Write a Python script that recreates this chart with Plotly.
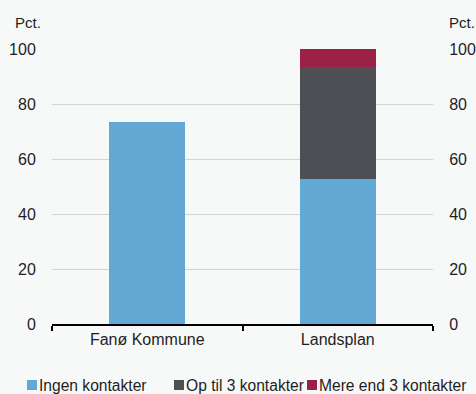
import plotly.graph_objects as go

# Data (percent)
categories = ['Fanø Kommune', 'Landsplan']
series_names = ['Ingen kontakter', 'Op til 3 kontakter', 'Mere end 3 kontakter']
ingen = [73.5, 52.8]
op_til_3 = [0, 40.7]
mere_end_3 = [0, 6.5]
series_colors = ['#63A9D5', '#4E4F55', '#9B2246']

tick_vals = [0, 20, 40, 60, 80, 100]

W, H = 476, 394
L, R, T, B = 52, 43, 49, 70
font = dict(family='Liberation Sans, Arial, sans-serif', size=16, color='#1E1E1E')
small_font = dict(font, size=15)
legend_font = dict(font, size=15.6)


def px_x(px):
    return (px - L) / (W - L - R)


def px_y(py):
    return (H - B - py) / (H - T - B)


fig = go.Figure()
for name, vals, col in zip(series_names, [ingen, op_til_3, mere_end_3], series_colors):
    fig.add_trace(go.Bar(x=categories, y=vals, name=name, marker_color=col,
                         marker_line_width=0, showlegend=False))

# invisible trace to drive the right axis
fig.add_trace(go.Scatter(x=categories, y=[0, 0], yaxis='y2', mode='markers',
                         marker_opacity=0, showlegend=False, hoverinfo='skip'))

fig.update_layout(
    width=W, height=H,
    barmode='stack', bargap=0.6,
    paper_bgcolor='#F7F9F9', plot_bgcolor='#F7F9F9',
    font=font,
    margin=dict(l=L, r=R, t=T, b=B, autoexpand=False),
    xaxis=dict(showline=True, linecolor='black', linewidth=2, automargin=False,
               ticks='outside', tickson='boundaries', ticklen=5,
               tickcolor='black', tickwidth=2, showgrid=False),
    yaxis=dict(range=[0, 100], tickvals=tick_vals, showgrid=True, automargin=False,
               gridcolor='#D2D3D3', gridwidth=1, zeroline=False,
               ticks='outside', ticklen=12, tickcolor='rgba(0,0,0,0)'),
    yaxis2=dict(range=[0, 100], tickvals=tick_vals, overlaying='y', side='right',
                showgrid=False, zeroline=False, automargin=False,
                ticks='outside', ticklen=12, tickcolor='rgba(0,0,0,0)'),
)

fig.add_annotation(text='Pct.', xref='paper', yref='paper', x=px_x(13), y=px_y(22),
                   xanchor='left', yanchor='middle', showarrow=False, font=small_font)
fig.add_annotation(text='Pct.', xref='paper', yref='paper', x=px_x(447), y=px_y(22),
                   xanchor='left', yanchor='middle', showarrow=False, font=small_font)

# legend: coloured square + label, laid out by hand
legend_x = [27, 174, 307]
for name, col, lx in zip(series_names, series_colors, legend_x):
    fig.add_shape(type='rect', xref='paper', yref='paper',
                  x0=px_x(lx), x1=px_x(lx + 10), y0=px_y(390), y1=px_y(380),
                  fillcolor=col, line_width=0)
    fig.add_annotation(text=name, xref='paper', yref='paper',
                       x=px_x(lx + 10), y=px_y(385), xanchor='left', yanchor='middle',
                       showarrow=False, font=legend_font)

fig.write_html("out.html", config={'displayModeBar': False},
               post_script="document.body.style.margin='0';")
